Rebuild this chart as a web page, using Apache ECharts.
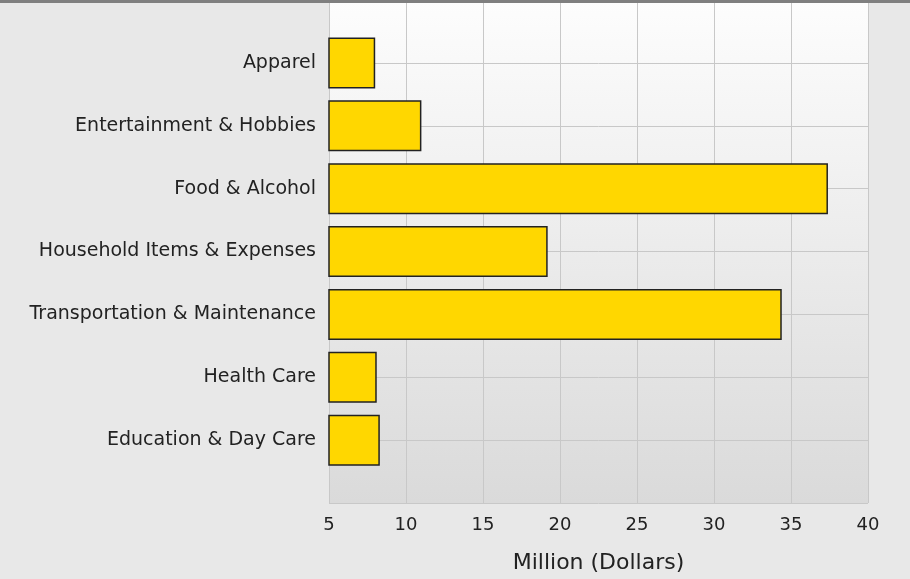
<!DOCTYPE html>
<html>
<head>
<meta charset="utf-8">
<script src="https://cdn.jsdelivr.net/npm/echarts@6/dist/echarts.min.js"></script>
<style>
  html, body { margin: 0; padding: 0; background: #e8e8e8; }
  #chart { width: 910px; height: 579px; }
</style>
</head>
<body>
<div id="chart"></div>
<script>
// categories, top to bottom
var categories = ['Apparel', 'Entertainment & Hobbies', 'Food & Alcohol', 'Household Items & Expenses',
    'Transportation & Maintenance', 'Health Care', 'Education & Day Care'];
// Million (Dollars)
var values = [8.0, 11.0, 37.4, 19.2, 34.4, 8.1, 8.3];
var xTicks = [5, 10, 15, 20, 25, 30, 35, 40];

// empty slot above and below so gridlines sit on the bar centres
var axisCats = [''].concat(categories, ['']);
var barData = ['-'].concat(values, ['-']);

var myChart = echarts.init(document.getElementById('chart'));

var font = 'DejaVu Sans';

var option = {
    backgroundColor: '#e8e8e8',
    animation: false,
    grid: {
        left: 329,
        right: 42,
        top: -1,
        bottom: 76,
        show: true,
        borderWidth: 0,
        backgroundColor: {
            type: 'linear', x: 0, y: 0, x2: 0, y2: 1,
            colorStops: [
                { offset: 0, color: '#fdfdfd' },
                { offset: 1, color: '#dadada' }
            ]
        }
    },
    xAxis: {
        type: 'value',
        min: xTicks[0],
        max: xTicks[xTicks.length - 1],
        interval: 5,
        name: 'Million (Dollars)',
        nameLocation: 'middle',
        nameGap: 49,
        nameTextStyle: { fontFamily: font, fontSize: 22, color: '#222' },
        axisLine: { show: false },
        axisTick: { show: false },
        axisLabel: { fontFamily: font, fontSize: 18, color: '#222', margin: 13 },
        splitLine: { show: true, lineStyle: { color: '#c8c8c8', width: 1 } }
    },
    yAxis: {
        type: 'category',
        inverse: true,
        boundaryGap: false,
        data: axisCats,
        axisLine: { show: false },
        axisTick: { show: false },
        axisLabel: { fontFamily: font, fontSize: 19, color: '#222', margin: 13 },
        splitLine: { show: true, lineStyle: { color: '#c8c8c8', width: 1 } }
    },
    series: [{
        type: 'bar',
        data: barData,
        barWidth: 51,
        itemStyle: { color: '#ffd700', borderColor: '#222', borderWidth: 1.5 }
    }],
    graphic: [{
        type: 'rect',
        left: 0, top: 0,
        shape: { width: 910, height: 3 },
        style: { fill: '#7f7f7f' },
        z: 100
    }]
};

myChart.setOption(option);
</script>
</body>
</html>
